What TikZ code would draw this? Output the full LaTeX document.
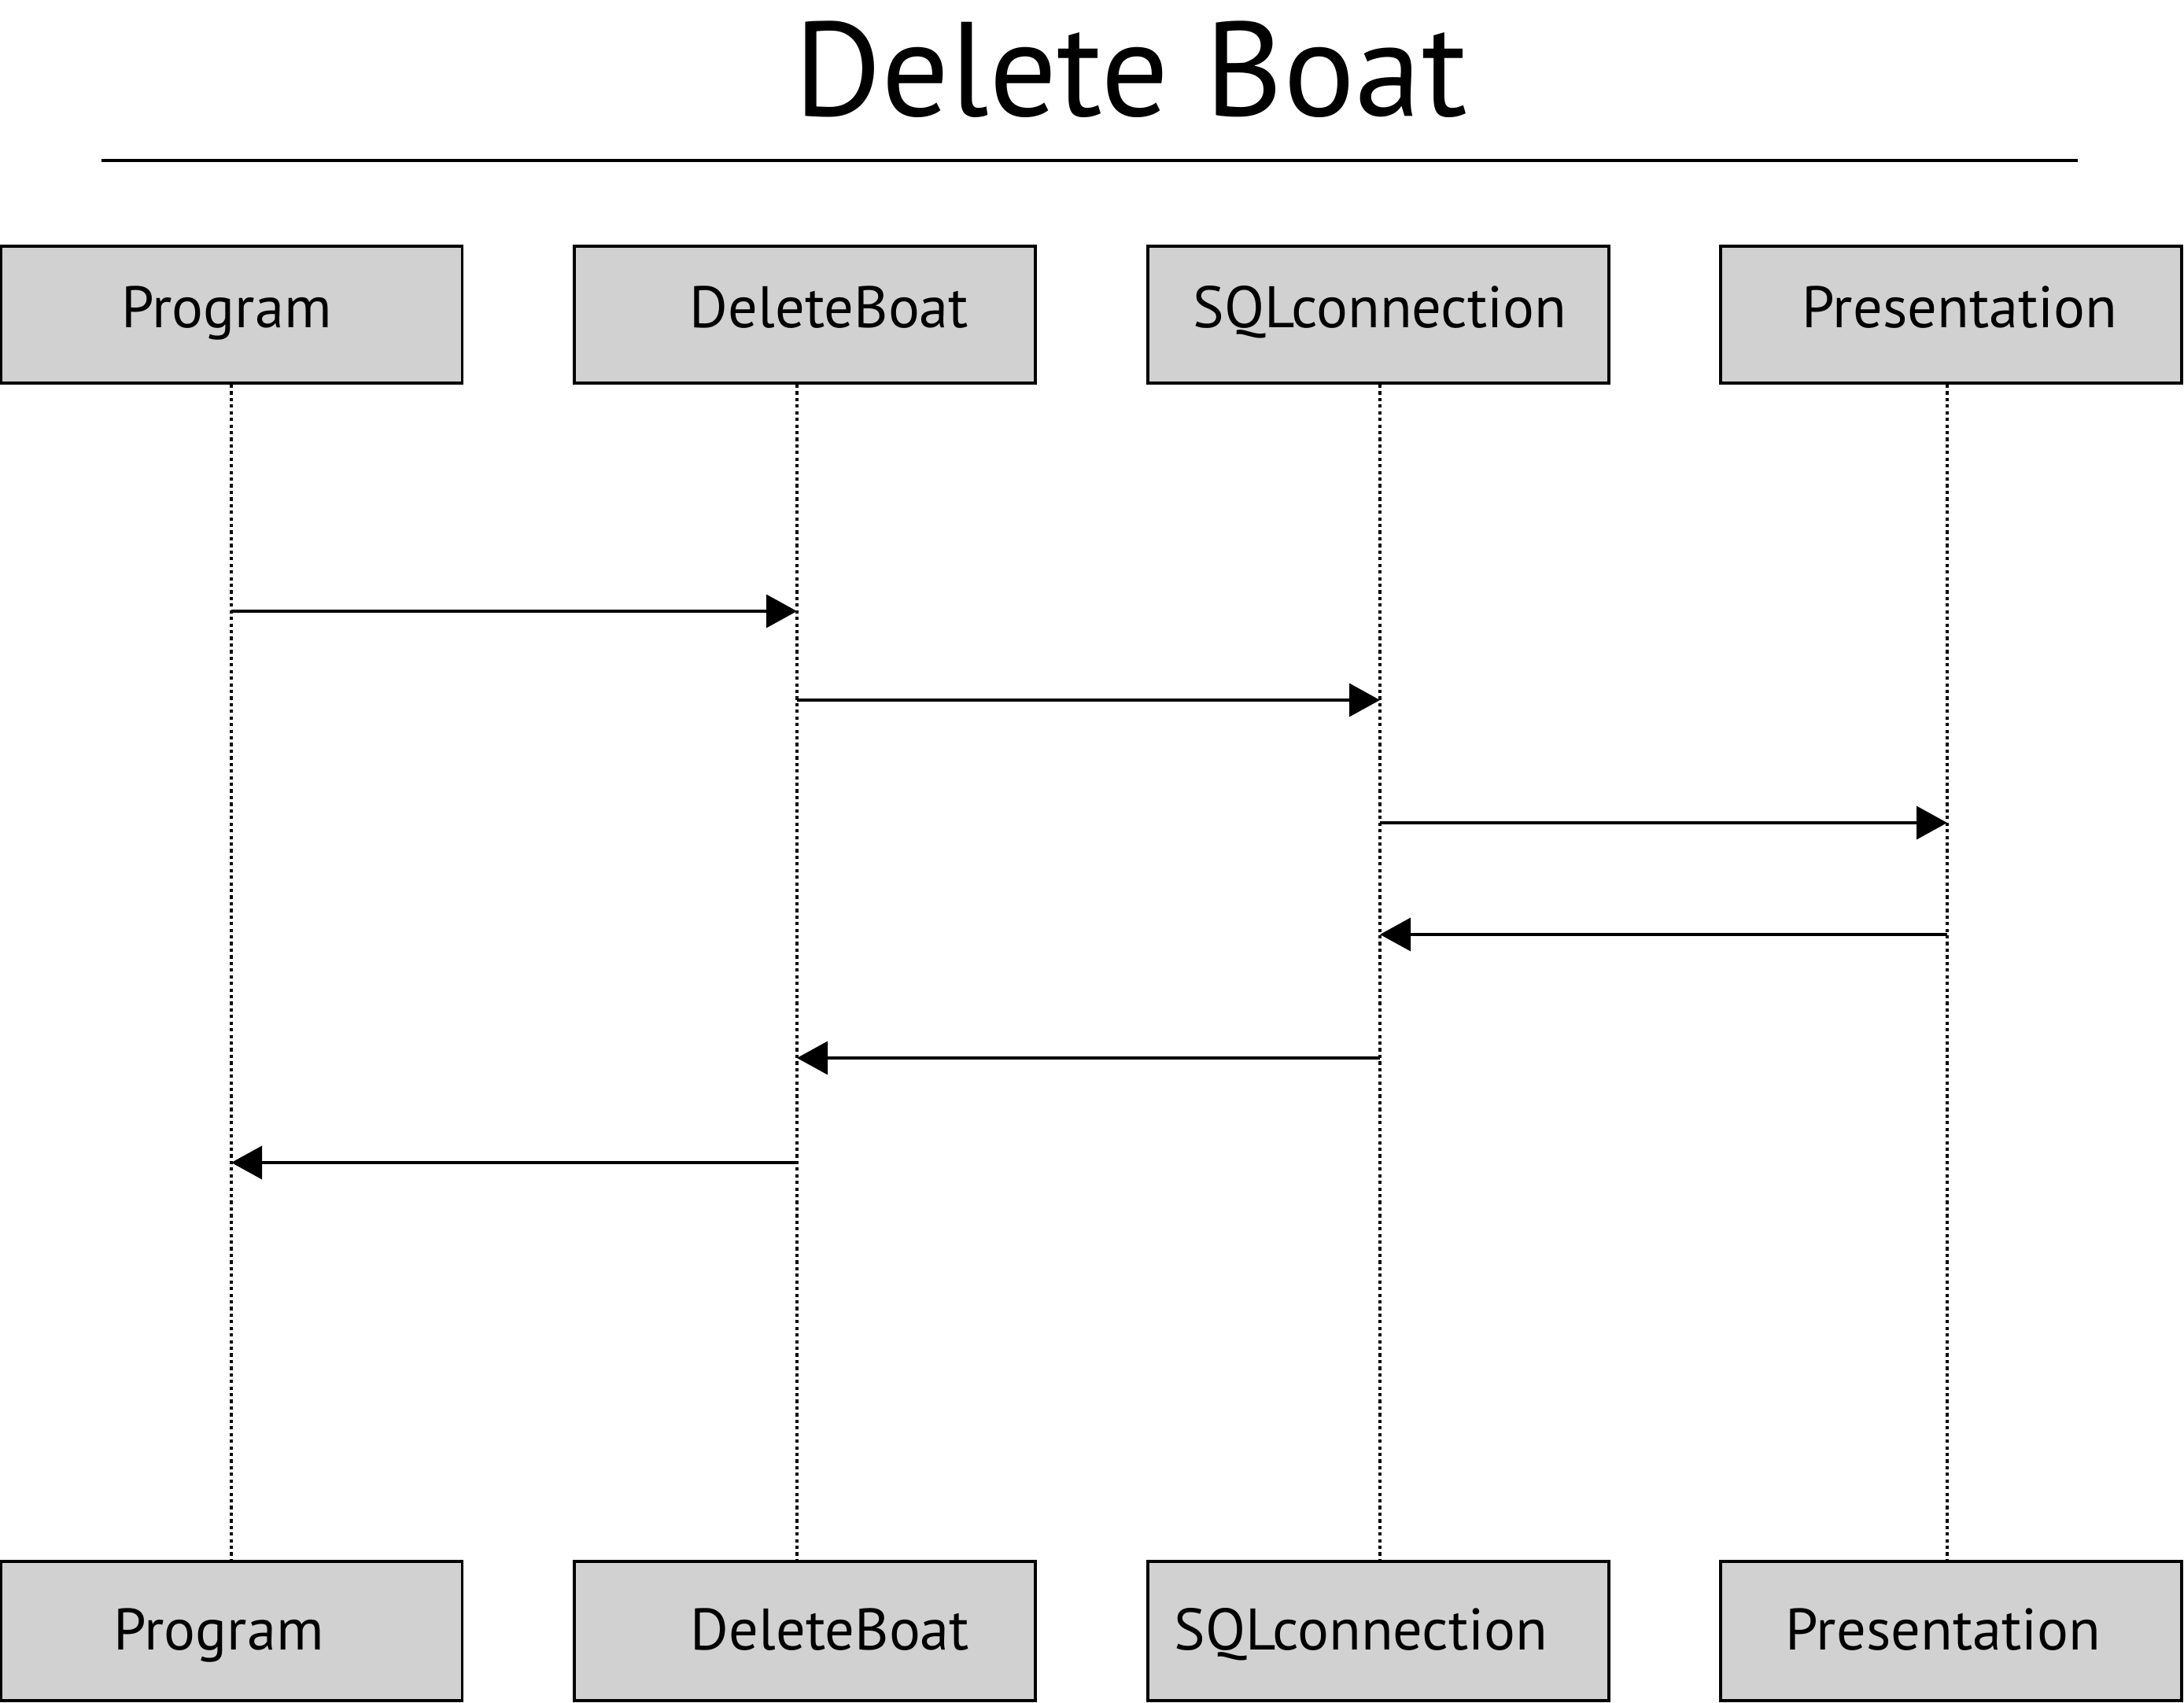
\documentclass[tikz,border=0pt]{standalone}
\usepackage{fontspec}
\setmainfont{PT Sans}
\usetikzlibrary{arrows.meta}
\definecolor{boxgray}{RGB}{209,209,209}

\begin{document}
\begin{tikzpicture}[
    obj/.style={draw, line width=1.1pt, fill=boxgray, minimum width=5.86cm, inner sep=0pt},
    lbl/.style={anchor=base, font=\fontsize{21.2}{25}\selectfont},
    life/.style={line width=1pt, dash pattern=on 1.2pt off 1.2pt},
    msg/.style={line width=1pt, -{Triangle[length=3.9mm,width=4.2mm]}}
]
    \useasboundingbox (0,0) rectangle (27.76,21.64);

    % Title
    \node[anchor=base, font=\fontsize{48.5}{58}\selectfont] (title) at (14.37,20.16) {Delete Boat};
    \draw[line width=1.3pt] (1.29,19.60) -- (26.41,19.60);

    % Objects (top and bottom)
    \node[obj, minimum height=1.74cm] (progtop) at (2.945,17.64) {};
    \node[obj, minimum height=1.74cm] (deltop)  at (10.23,17.64) {};
    \node[obj, minimum height=1.74cm] (sqltop)  at (17.52,17.64) {};
    \node[obj, minimum height=1.74cm] (prestop) at (24.80,17.64) {};
    \node[obj, minimum height=1.77cm] (progbot) at (2.945,0.905) {};
    \node[obj, minimum height=1.77cm] (delbot)  at (10.23,0.905) {};
    \node[obj, minimum height=1.77cm] (sqlbot)  at (17.52,0.905) {};
    \node[obj, minimum height=1.77cm] (presbot) at (24.80,0.905) {};

    % Labels
    \node[lbl] (proglbl)  at (2.88,17.47)  {Program};
    \node[lbl] (dellbl)   at (10.54,17.47) {DeleteBoat};
    \node[lbl] (sqllbl)   at (17.54,17.47) {SQLconnection};
    \node[lbl] (preslbl)  at (24.91,17.47) {Presentation};
    \node[lbl] (proglbl2) at (2.78,0.67)   {Program};
    \node[lbl] (dellbl2)  at (10.55,0.67)  {DeleteBoat};
    \node[lbl] (sqllbl2)  at (17.30,0.67)  {SQLconnection};
    \node[lbl] (preslbl2) at (24.70,0.67)  {Presentation};

    % Lifelines
    \coordinate (prog) at (2.94,0);
    \coordinate (dele) at (10.13,0);
    \coordinate (sql)  at (17.54,0);
    \coordinate (pres) at (24.75,0);
    \foreach \o/\t/\b in {prog/progtop/progbot, dele/deltop/delbot, sql/sqltop/sqlbot, pres/prestop/presbot} {
        \draw[life] (\o |- \t.south) -- (\o |- \b.north);
    }

    % Messages
    \foreach \a/\b/\y in {prog/dele/13.87, dele/sql/12.74, sql/pres/11.18,
                          pres/sql/9.76, sql/dele/8.19, dele/prog/6.86} {
        \draw[msg] (\a |- 0,\y) -- (\b |- 0,\y);
    }
\end{tikzpicture}
\end{document}
